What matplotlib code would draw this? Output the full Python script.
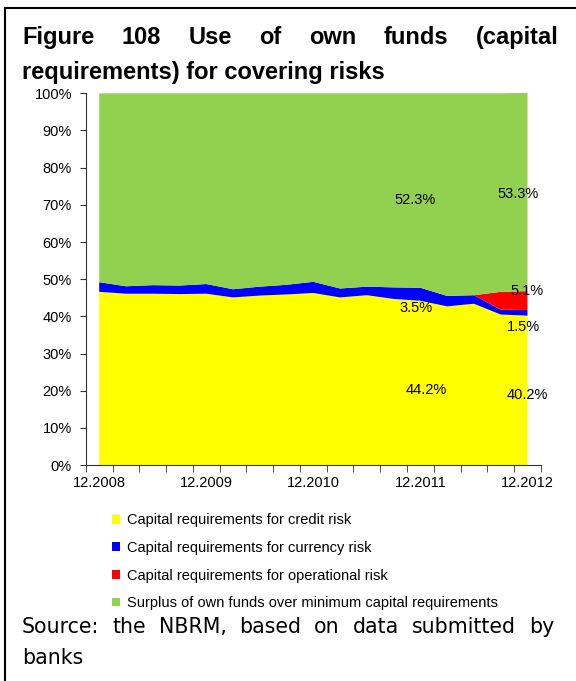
import matplotlib
matplotlib.use('Agg')
import matplotlib.pyplot as plt
from matplotlib.patches import Patch
from matplotlib.ticker import FixedLocator, FuncFormatter
import numpy as np

# quarterly data, 12.2008 - 12.2012 (shares of own funds, %)
quarters = ['12.2008', '03.2009', '06.2009', '09.2009', '12.2009', '03.2010', '06.2010', '09.2010',
            '12.2010', '03.2011', '06.2011', '09.2011', '12.2011', '03.2012', '06.2012', '09.2012', '12.2012']
credit = [46.6, 46.1, 46.1, 46.0, 46.1, 45.1, 45.6, 45.9, 46.3, 45.1, 45.7, 44.7, 44.2, 42.7, 43.4, 40.5, 40.2]
currency = [2.6, 2.0, 2.3, 2.3, 2.6, 2.2, 2.4, 2.6, 3.0, 2.4, 2.3, 3.1, 3.5, 2.8, 2.3, 1.3, 1.5]
operational = [0, 0, 0, 0, 0, 0, 0, 0, 0, 0, 0, 0, 0, 0, 0, 4.8, 5.1]
surplus = [100 - a - b - c for a, b, c in zip(credit, currency, operational)]
surplus[12] = 52.3
surplus[16] = 53.3

names = ['Capital requirements for credit risk', 'Capital requirements for currency risk',
         'Capital requirements for operational risk', 'Surplus of own funds over minimum capital requirements']
colors = ['#FFFF00', '#0000FF', '#FF0000', '#92D050']

narrow = ['Liberation Sans Narrow', 'Liberation Sans', 'DejaVu Sans']

fig = plt.figure(figsize=(5.76, 6.81), dpi=100)
ax = fig.add_axes([0.149, 0.317, 0.790, 0.546])

x = np.arange(len(quarters))
ax.stackplot(x, credit, currency, operational, surplus, colors=colors, linewidth=0)
ax.set_xlim(-0.5, len(quarters) - 0.5)
ax.set_ylim(0, 100)

ax.spines['top'].set_visible(False)
ax.spines['right'].set_visible(False)
ax.spines['left'].set_color('#333333')
ax.spines['bottom'].set_color('#333333')

ax.set_yticks(np.arange(0, 101, 10))
ax.yaxis.set_major_formatter(FuncFormatter(lambda v, p: '%d%%' % v))
ax.tick_params(axis='y', direction='out', length=4, color='#333333', labelsize=10.5, pad=6)
ax.set_xticks(x[::4])
ax.set_xticklabels(quarters[::4])
ax.xaxis.set_minor_locator(FixedLocator(np.arange(-0.5, len(quarters), 1)))
ax.tick_params(axis='x', which='major', length=0, labelsize=10.5, pad=8)
ax.tick_params(axis='x', which='minor', direction='out', length=5, color='#333333')
for lab in ax.get_xticklabels() + ax.get_yticklabels():
    lab.set_family(narrow)

# data labels (offsets in points)
lab_kw = dict(ha='center', va='center', fontsize=10.5, family=narrow, textcoords='offset points')
offs = {12: dict(cr=(4, -5), cu=(-3, -10), su=(-4, -7)),
        16: dict(cr=(0, -3), cu=(-3, -10), su=(-7, -1), op=(0, 7))}
for i in [12, 16]:
    c0 = credit[i]
    c1 = c0 + currency[i]
    c2 = c1 + operational[i]
    o = offs[i]
    ax.annotate('%.1f%%' % credit[i], (i, c0 / 2), xytext=o['cr'], **lab_kw)
    ax.annotate('%.1f%%' % surplus[i], (i, (c2 + 100) / 2), xytext=o['su'], **lab_kw)
    ax.annotate('%.1f%%' % currency[i], (i, (c0 + c1) / 2), xytext=o['cu'], **lab_kw)
    if operational[i] > 0:
        ax.annotate('%.1f%%' % operational[i], (i, (c1 + c2) / 2), xytext=o['op'], **lab_kw)

handles = [Patch(facecolor=c, edgecolor='none') for c in colors]
fig.legend(handles, names, loc='upper left', bbox_to_anchor=(0.194, 0.246), frameon=False,
           prop={'family': narrow, 'size': 10.5}, handlelength=0.55, handleheight=0.55,
           handletextpad=0.5, labelspacing=0.93, borderpad=0, borderaxespad=0)


def justify(words, y, x0, x1, **kw):
    texts = [fig.text(0, y, w, va='center', ha='left', **kw) for w in words]
    fig.canvas.draw()
    r = fig.canvas.get_renderer()
    widths = [t.get_window_extent(r).width / fig.bbox.width for t in texts]
    gap = (x1 - x0 - sum(widths)) / max(len(words) - 1, 1)
    pos = x0
    for t, w in zip(texts, widths):
        t.set_x(pos)
        pos += w + gap


title_kw = dict(fontsize=17, fontweight='bold', family=['Liberation Sans', 'DejaVu Sans'])
justify('Figure 108 Use of own funds (capital'.split(), 0.945, 0.038, 0.969, **title_kw)
fig.text(0.038, 0.893, 'requirements) for covering risks', va='center', ha='left', **title_kw)

src_kw = dict(fontsize=14.8, family='DejaVu Sans')
justify('Source: the NBRM, based on data submitted by'.split(), 0.079, 0.038, 0.962, **src_kw)
fig.text(0.038, 0.034, 'banks', va='center', ha='left', **src_kw)

# frame lines (top and left)
fig.add_artist(plt.Line2D([0.009, 1.0], [0.988, 0.988], color='black', lw=1.5, transform=fig.transFigure))
fig.add_artist(plt.Line2D([0.009, 0.009], [0.0, 0.988], color='black', lw=1.5, transform=fig.transFigure))

fig.savefig('out.png', dpi=100)
